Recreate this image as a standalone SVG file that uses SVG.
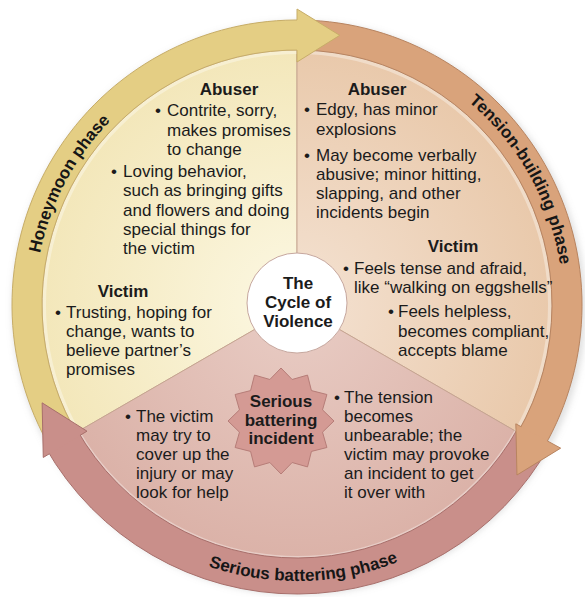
<svg xmlns="http://www.w3.org/2000/svg" width="585" height="597" viewBox="0 0 585 597">
<style>
  text { font-family: "Liberation Sans", Arial, Helvetica, sans-serif; font-size: 17px; fill: #1b1b1b; }
  .h { font-weight: bold; text-anchor: middle; }
  .ring { font-weight: bold; fill: #161616; }
  .div { stroke: #c4a38e; stroke-width: 0.9; }
</style>
<defs>
  <radialGradient id="gHoney" cx="297" cy="305" r="255" gradientUnits="userSpaceOnUse">
    <stop offset="0" stop-color="#fcf8e3"/>
    <stop offset="1" stop-color="#f3e7ba"/>
  </radialGradient>
  <radialGradient id="gTension" cx="297" cy="305" r="255" gradientUnits="userSpaceOnUse">
    <stop offset="0" stop-color="#f4e2d2"/>
    <stop offset="1" stop-color="#e9c9ab"/>
  </radialGradient>
  <radialGradient id="gBatter" cx="297" cy="305" r="255" gradientUnits="userSpaceOnUse">
    <stop offset="0" stop-color="#e9cdc5"/>
    <stop offset="1" stop-color="#dbb2a8"/>
  </radialGradient>
  <filter id="shadow" x="-10%" y="-10%" width="120%" height="120%">
    <feGaussianBlur stdDeviation="3"/>
  </filter>
  <path id="pHoney" d="M74.81,443.84 A262,262 0 0 1 287.86,43.16"/>
  <path id="pTension" d="M300.25,39.02 A266,266 0 0 1 525.72,440.80"/>
  <path id="pBatter" d="M61.44,448.80 A276,276 0 0 0 539.32,437.12"/>
</defs>

<rect width="585" height="597" fill="#ffffff"/>
<circle cx="299" cy="308" r="287" fill="#9a9a9a" fill-opacity="0.3" filter="url(#shadow)"/>

<!-- sectors -->
<g id="sector-honeymoon">
  <path class="div" d="M297,305 L76.2,432.5 A255,255 0 0 1 297,50 Z" fill="url(#gHoney)"/>
</g>
<g id="sector-tension">
  <path class="div" d="M297,305 L297,50 A255,255 0 0 1 517.8,432.5 Z" fill="url(#gTension)"/>
</g>
<g id="sector-battering">
  <path class="div" d="M297,305 L517.8,432.5 A255,255 0 0 1 76.2,432.5 Z" fill="url(#gBatter)"/>
</g>
<circle cx="297" cy="305" r="253" fill="none" stroke="#ffffff" stroke-opacity="0.35" stroke-width="4"/>

<!-- ring arrows (connectors) -->
<g id="connectors">
  <path d="M46.54,440.99 A285,285 0 0 1 304.46,20.10 L303.68,50.09 A255,255 0 0 0 72.90,426.68 Z" fill="#e4ce84" stroke="#c7ad68" stroke-width="1"/>
  <path d="M301.97,20.04 A285,285 0 0 1 543.82,447.5 L517.84,432.5 A255,255 0 0 0 301.45,50.04 Z" fill="#d9a37b" stroke="#b88460" stroke-width="1"/>
  <path d="M549.76,445.11 A289,289 0 0 1 45.47,447.31 L76.80,429.58 A253,253 0 0 0 518.28,427.66 Z" fill="#c98f8a" stroke="#a86f6b" stroke-width="1"/>
  <path d="M297,20 L297,9 L339.71,35.36 L297,62 L297,50" fill="#e4ce84" stroke="#c7ad68" stroke-width="1"/>
  <path d="M547.46,440.99 L560.65,448.15 L516.96,475.01 L515.83,423.81 L521.10,426.68" fill="#d9a37b" stroke="#b88460" stroke-width="1"/>
  <path d="M49.28,453.85 L43.28,457.45 L42.13,402.83 L86.99,431.18 L80.14,435.30" fill="#c98f8a" stroke="#a86f6b" stroke-width="1"/>
</g>

<!-- ring labels -->
<g id="ring-labels">
  <text class="ring"><textPath href="#pHoney" startOffset="198.3">Honeymoon</textPath></text>
  <text class="ring"><textPath href="#pHoney" startOffset="301.3">phase</textPath></text>
  <text class="ring"><textPath href="#pTension" startOffset="183.2">Tension-building</textPath></text>
  <text class="ring"><textPath href="#pTension" startOffset="324.9">phase</textPath></text>
  <text class="ring"><textPath href="#pBatter" startOffset="50%" text-anchor="middle">Serious battering phase</textPath></text>
</g>

<!-- center -->
<g id="center">
  <circle cx="297" cy="303" r="50" fill="#ffffff" stroke="#c6a79e" stroke-width="1"/>
  <text class="h" x="298" y="289">The</text>
  <text class="h" x="298" y="308">Cycle of</text>
  <text class="h" x="298" y="327">Violence</text>
</g>

<!-- honeymoon texts -->
<g id="honeymoon-abuser">
  <text class="h" x="229" y="95">Abuser</text>
  <text x="155" y="116">•</text>
  <text x="167" y="116">Contrite, sorry,</text>
  <text x="167" y="135.5">makes promises</text>
  <text x="167" y="155">to change</text>
  <text x="111" y="177">•</text>
  <text x="123" y="177">Loving behavior,</text>
  <text x="123" y="196">such as bringing gifts</text>
  <text x="123" y="215.5">and flowers and doing</text>
  <text x="123" y="235">special things for</text>
  <text x="123" y="254">the victim</text>
</g>
<g id="honeymoon-victim">
  <text class="h" x="123" y="297">Victim</text>
  <text x="55" y="318">•</text>
  <text x="66" y="318">Trusting, hoping for</text>
  <text x="66" y="337">change, wants to</text>
  <text x="66" y="356">believe partner’s</text>
  <text x="66" y="375">promises</text>
</g>

<!-- tension texts -->
<g id="tension-abuser">
  <text class="h" x="377" y="95">Abuser</text>
  <text x="304" y="115">•</text>
  <text x="316" y="115">Edgy, has minor</text>
  <text x="316" y="134.5">explosions</text>
  <text x="304" y="161">•</text>
  <text x="316" y="161">May become verbally</text>
  <text x="316" y="180">abusive; minor hitting,</text>
  <text x="316" y="199">slapping, and other</text>
  <text x="316" y="218">incidents begin</text>
</g>
<g id="tension-victim">
  <text class="h" x="453" y="252">Victim</text>
  <text x="343" y="274">•</text>
  <text x="354" y="274">Feels tense and afraid,</text>
  <text x="354" y="293">like “walking on eggshells”</text>
  <text x="388" y="317">•</text>
  <text x="398" y="317">Feels helpless,</text>
  <text x="398" y="336.5">becomes compliant,</text>
  <text x="398" y="355.5">accepts blame</text>
</g>

<!-- battering -->
<g id="battering-incident">
  <polygon points="281,368 292.13,379.47 307.5,375.1 311.41,390.59 326.9,394.5 322.53,409.87 334,421 322.53,432.13 326.9,447.5 311.41,451.41 307.5,466.9 292.13,462.53 281,474 269.87,462.53 254.5,466.9 250.59,451.41 235.1,447.5 239.47,432.13 228,421 239.47,409.87 235.1,394.5 250.59,390.59 254.5,375.1 269.87,379.47" fill="#d49a94" stroke="#b67d78" stroke-width="1"/>
  <text class="h" x="281" y="407">Serious</text>
  <text class="h" x="281" y="426">battering</text>
  <text class="h" x="281" y="444">incident</text>
</g>
<g id="battering-left">
  <text x="125" y="422">•</text>
  <text x="136" y="422">The victim</text>
  <text x="136" y="441">may try to</text>
  <text x="136" y="460">cover up the</text>
  <text x="136" y="479">injury or may</text>
  <text x="136" y="498">look for help</text>
</g>
<g id="battering-right">
  <text x="334" y="403">•</text>
  <text x="344" y="403">The tension</text>
  <text x="344" y="422">becomes</text>
  <text x="344" y="441">unbearable; the</text>
  <text x="344" y="460">victim may provoke</text>
  <text x="344" y="479">an incident to get</text>
  <text x="344" y="498">it over with</text>
</g>
</svg>
